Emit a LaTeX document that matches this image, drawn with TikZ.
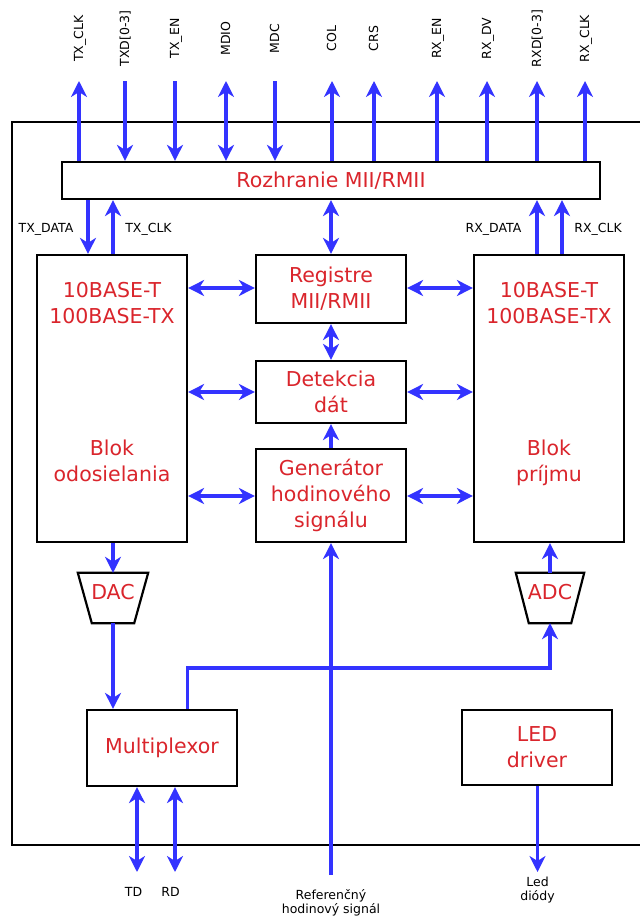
\documentclass[tikz,border=0pt]{standalone}
\usepackage{fontspec}
\setmainfont{DejaVu Sans}
\usetikzlibrary{arrows.meta}
\definecolor{ablue}{RGB}{51,51,255}
\definecolor{tred}{RGB}{218,37,44}
\begin{document}
\begin{tikzpicture}[x=1pt,y=-1pt,
 box/.style={draw=black, line width=2.2pt, fill=white, inner sep=0pt, text=tred, font=\fontsize{20.5}{26}\selectfont, align=center},
 ghost/.style={inner sep=0pt},
 redtxt/.style={text=tred, font=\fontsize{20.5}{26}\selectfont, align=center, inner sep=0pt},
 lbl/.style={font=\fontsize{12.5}{14}\selectfont, inner sep=0pt, align=center},
 sig/.style={draw=ablue, line width=3.4pt, line join=miter},
 tip/.tip={Stealth[length=16pt,width=16pt,inset=5pt]},
 sigup/.style={sig, -tip},
 sigdown/.style={sig, tip-},
 sigboth/.style={sig, tip-tip},
]
\useasboundingbox (0,0) rectangle (639,917);
% outer frame
\draw[line width=2.2pt] (645,122) -- (12,122) -- (12,845) -- (645,845);

% boxes
\node[box, minimum width=538, minimum height=37] (mii) at (331,180.5) {Rozhranie MII/RMII};
\node[box, minimum width=150, minimum height=287] (tx) at (112,398.5) {};
\node[box, minimum width=150, minimum height=287] (rx) at (549,398.5) {};
\node[box, minimum width=150, minimum height=68] (reg) at (331,289) {Registre\\MII/RMII};
\node[box, minimum width=150, minimum height=62] (det) at (331,392) {Detekcia\\dát};
\node[box, minimum width=150, minimum height=93] (gen) at (331,495.5) {Generátor\\hodinového\\signálu};
\node[box, minimum width=150, minimum height=76] (mux) at (162,748) {Multiplexor};
\node[box, minimum width=150, minimum height=75] (led) at (537,747.5) {LED\\driver};

\node[redtxt, anchor=north] (txa) at (112,282) {10BASE-T\\100BASE-TX};
\node[redtxt, anchor=north] (txb) at (112,440) {Blok\\odosielania};
\node[redtxt, anchor=north] (rxa) at (549,282) {10BASE-T\\100BASE-TX};
\node[redtxt, anchor=north] (rxb) at (549,440) {Blok\\príjmu};

% DAC / ADC
\node[ghost, minimum width=70, minimum height=50] (dac) at (113,598) {};
\draw[line width=2.2pt, fill=white] (dac.north west) -- (dac.north east) -- ([xshift=-14pt]dac.south east) -- ([xshift=14pt]dac.south west) -- cycle;
\node[redtxt] (dact) at (113,592) {DAC};
\node[ghost, minimum width=68, minimum height=50] (adc) at (550,598) {};
\draw[line width=2.2pt, fill=white] (adc.north west) -- (adc.north east) -- ([xshift=-13pt]adc.south east) -- ([xshift=13pt]adc.south west) -- cycle;
\node[redtxt] (adct) at (550,592) {ADC};

% top signals
\foreach \x/\t/\k in {79/TX\_CLK/sigup, 125/{TXD[0-3]}/sigdown, 175/TX\_EN/sigdown,
  226/MDIO/sigboth, 275/MDC/sigdown, 332/COL/sigup, 374/CRS/sigup, 437/RX\_EN/sigup,
  487/RX\_DV/sigup, 537/{RXD[0-3]}/sigup, 585/RX\_CLK/sigup}{
  \coordinate (top\x) at (\x,81);
  \draw[\k] (top\x |- mii.north) -- (top\x);
  \node[lbl, rotate=90, anchor=mid] (lab\x) at (\x+1.5,38.5) {\t};
}

% MII <-> TX / RX blocks
\coordinate (cTxData) at (88,0);
\coordinate (cTxClk) at (113,0);
\coordinate (cRxData) at (537,0);
\coordinate (cRxClk) at (562,0);
\draw[sigup] (cTxData |- mii.south) -- (cTxData |- tx.north);
\draw[sigup] (cTxClk |- tx.north) -- (cTxClk |- mii.south);
\draw[sigup] (cRxData |- rx.north) -- (cRxData |- mii.south);
\draw[sigup] (cRxClk |- rx.north) -- (cRxClk |- mii.south);
\node[lbl, anchor=base] (lTxData) at (46,233) {TX\_DATA};
\node[lbl, anchor=base] (lTxClk) at (148.5,233) {TX\_CLK};
\node[lbl, anchor=base] (lRxData) at (493.5,233) {RX\_DATA};
\node[lbl, anchor=base] (lRxClk) at (598,233) {RX\_CLK};

% horizontal links
\foreach \y in {288,392,496}{
  \coordinate (h\y) at (0,\y);
  \draw[sigboth] (h\y -| tx.east) -- (h\y -| reg.west);
  \draw[sigboth] (h\y -| reg.east) -- (h\y -| rx.west);
}

% vertical center links
\draw[sigboth] (mii.south) -- (reg.north);
\draw[sigboth] (reg.south) -- (det.north);
\draw[sigup] (gen.north) -- (det.south);

% reference clock
\coordinate (ref) at (331,875);
\draw[sigup] (ref) -- (gen.south);
\node[lbl, anchor=north] (lref) at (331,889) {Referenčný\\hodinový signál};

% DAC / ADC links
\draw[sigup] (dac.north |- tx.south) -- (dac.north);
\draw[sigup] (dac.south) -- (dac.south |- mux.north);
\draw[sigup] (adc.north) -- (adc.north |- rx.south);
\coordinate (mt) at (187.5,668);
\draw[sigup] (mt |- mux.north) -- (mt) -- (mt -| adc.south) -- (adc.south);

% bottom signals
\coordinate (td) at (137,872);
\coordinate (rd) at (175,872);
\coordinate (ld) at (537.5,872);
\draw[sigboth] (td |- mux.south) -- (td);
\draw[sigboth] (rd |- mux.south) -- (rd);
\draw[sigup] (ld |- led.south) -- (ld);
\node[lbl] (ltd) at (133.5,892) {TD};
\node[lbl] (lrd) at (170.5,892) {RD};
\node[lbl, anchor=north] (lled) at (537.5,877) {Led\\diódy};
\end{tikzpicture}
\end{document}
